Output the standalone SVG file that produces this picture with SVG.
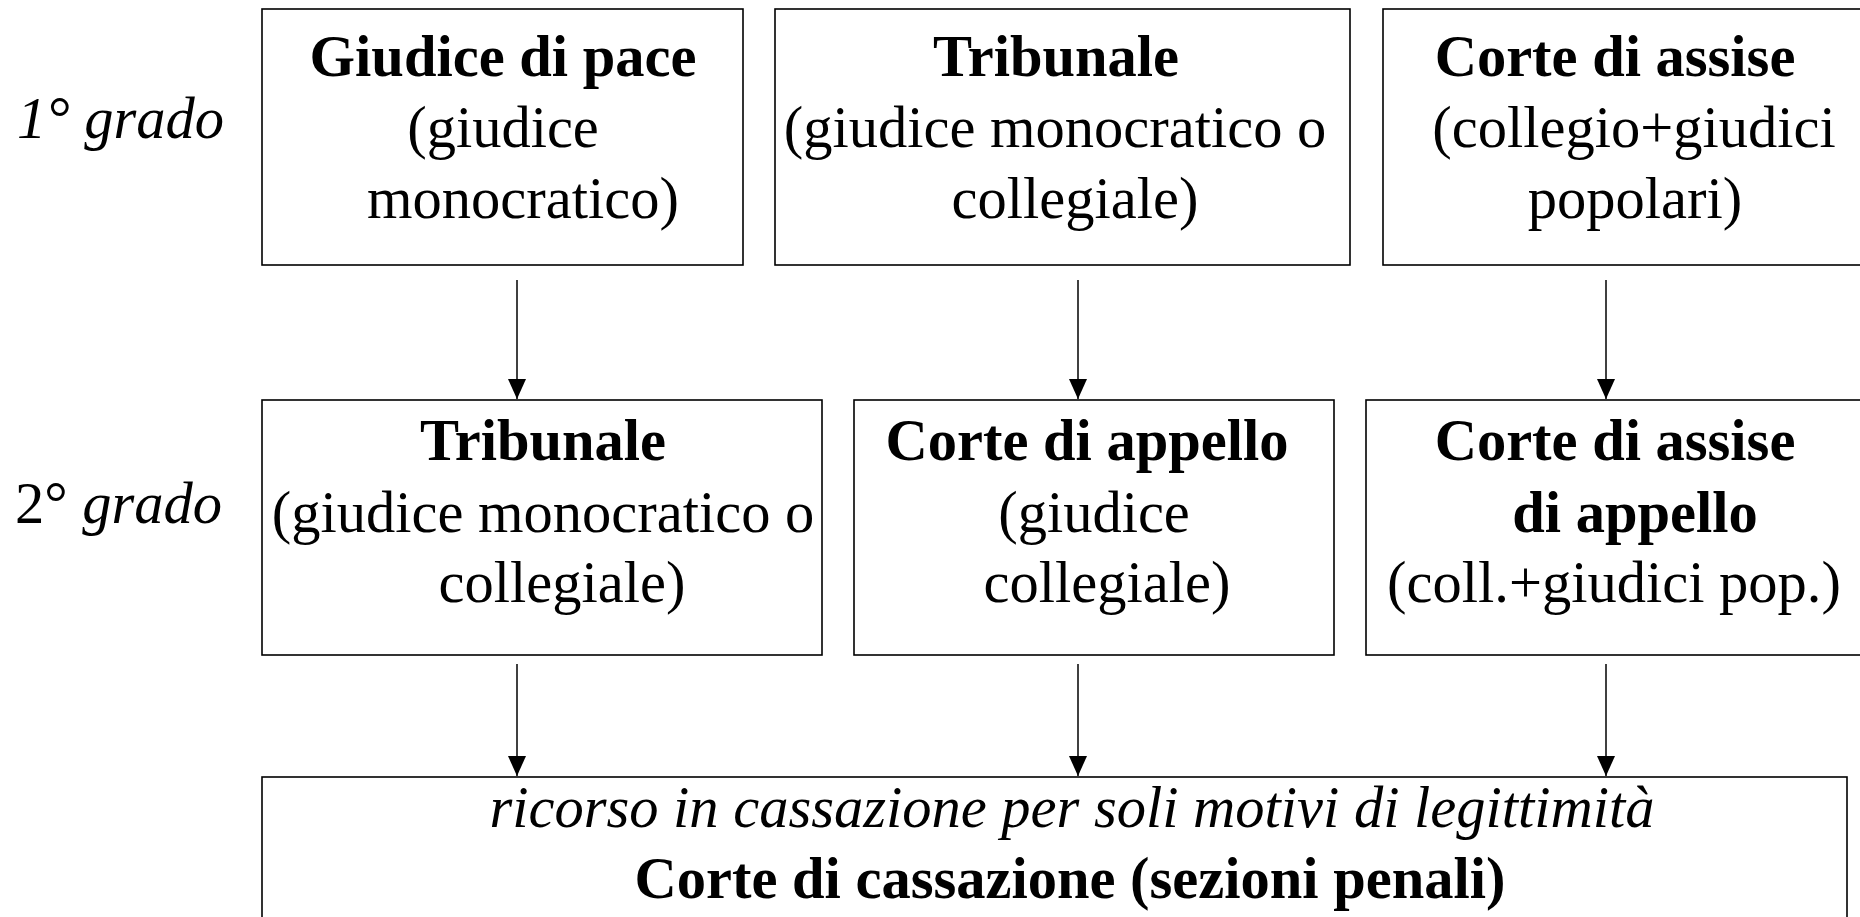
<svg xmlns="http://www.w3.org/2000/svg" width="1860" height="917" viewBox="0 0 1860 917">
<defs>
<style>
.box{fill:#fff;stroke:#000;stroke-width:1.6}
text{font-family:"Liberation Serif","Times New Roman",serif;font-size:58.5px;fill:#000;text-anchor:middle}
.b{font-weight:bold}
.i{font-style:italic}
.lbl{text-anchor:start}
.conn line{stroke:#000;stroke-width:1.5}
</style>
<marker id="ah" markerUnits="userSpaceOnUse" markerWidth="20" markerHeight="18" refX="20" refY="9" orient="auto">
<path d="M0,0 L20,9 L0,18 Z" fill="#000"/>
</marker>
</defs>
<rect width="1860" height="917" fill="#fff"/>
<g id="label1"><text class="lbl i" x="17" y="138">1° grado</text></g>
<g id="label2"><text class="lbl" x="15" y="523">2° <tspan class="i">grado</tspan></text></g>

<g id="giudice-pace">
<rect class="box" x="262" y="9" width="481" height="256"/>
<text class="b" x="503" y="76">Giudice di pace</text>
<text x="503" y="147">(giudice</text>
<text x="523" y="218">monocratico)</text>
</g>
<g id="tribunale1">
<rect class="box" x="775" y="9" width="575" height="256"/>
<text class="b" x="1056" y="76">Tribunale</text>
<text x="1055" y="147">(giudice monocratico o</text>
<text x="1075" y="218">collegiale)</text>
</g>
<g id="corte-assise">
<rect class="box" x="1383" y="9" width="500" height="256"/>
<text class="b" x="1615" y="76">Corte di assise</text>
<text x="1634" y="147">(collegio+giudici</text>
<text x="1635" y="218">popolari)</text>
</g>

<g id="tribunale2">
<rect class="box" x="262" y="400" width="560" height="255"/>
<text class="b" x="543" y="460">Tribunale</text>
<text x="543" y="532">(giudice monocratico o</text>
<text x="562" y="602">collegiale)</text>
</g>
<g id="corte-appello">
<rect class="box" x="854" y="400" width="480" height="255"/>
<text class="b" x="1087" y="460">Corte di appello</text>
<text x="1094" y="532">(giudice</text>
<text x="1107" y="602">collegiale)</text>
</g>
<g id="corte-assise-appello">
<rect class="box" x="1366" y="400" width="520" height="255"/>
<text class="b" x="1615" y="460">Corte di assise</text>
<text class="b" x="1635" y="532">di appello</text>
<text x="1614" y="602">(coll.+giudici pop.)</text>
</g>

<g id="cassazione">
<rect class="box" x="262" y="777" width="1585" height="160"/>
<text class="i" x="1072" y="827">ricorso in cassazione per soli motivi di legittimità</text>
<text class="b" x="1070" y="898">Corte di cassazione (sezioni penali)</text>
</g>

<g id="connectors" class="conn">
<line x1="517" y1="280" x2="517" y2="399" marker-end="url(#ah)"/>
<line x1="1078" y1="280" x2="1078" y2="399" marker-end="url(#ah)"/>
<line x1="1606" y1="280" x2="1606" y2="399" marker-end="url(#ah)"/>
<line x1="517" y1="664" x2="517" y2="776" marker-end="url(#ah)"/>
<line x1="1078" y1="664" x2="1078" y2="776" marker-end="url(#ah)"/>
<line x1="1606" y1="664" x2="1606" y2="776" marker-end="url(#ah)"/>
</g>
</svg>
